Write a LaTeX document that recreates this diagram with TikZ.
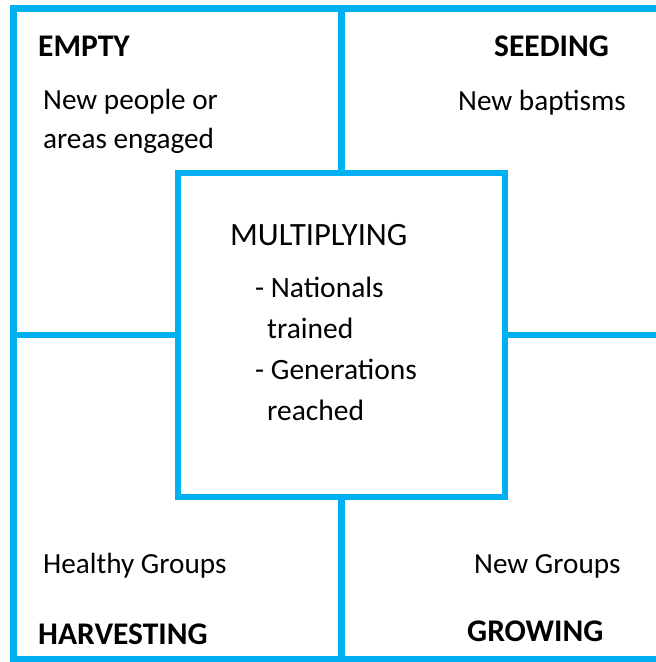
\documentclass[tikz,border=0pt]{standalone}
\usepackage{fontspec}
\setmainfont{Carlito}
\usepackage{tikz}
\usetikzlibrary{positioning,calc}
\definecolor{skyblue}{HTML}{00B0F0}
\tikzset{
  bluebox/.style={draw=skyblue,line width=6.5pt,inner sep=0pt},
  bluerule/.style={draw=skyblue,line width=6.5pt},
  phasehead/.style={font=\fontsize{31.5}{40}\selectfont\bfseries,inner sep=0pt,anchor=base west},
  phasetext/.style={font=\fontsize{29.2}{39}\selectfont,inner sep=0pt,anchor=base west,align=left}
}
\begin{document}
\begin{tikzpicture}[x=1pt,y=-1pt]
\useasboundingbox (0,0) rectangle (656,662);
\clip (0,0) rectangle (656,662);
\node[bluebox,minimum width=656pt,minimum height=651pt] (frame) at (341.5,334) {};
\node[bluebox,fill=white,minimum width=327pt,minimum height=324pt] (mult) at (341.5,335) {};
\draw[bluerule] (mult.north) -- (mult.north |- frame.north);
\draw[bluerule] (mult.south) -- (mult.south |- frame.south);
\draw[bluerule] (mult.west) -- (mult.west -| frame.west);
\draw[bluerule] (mult.east) -- (mult.east -| frame.east);
\node[phasehead] (empty) at (38,56) {EMPTY};
\node[phasetext] (emptytxt) at (43,148) {New people or\\areas engaged};
\node[phasehead] (seeding) at (494,56) {SEEDING};
\node[phasetext] (seedingtxt) at (458,110) {New baptisms};
\node[phasetext,font=\fontsize{32.5}{40}\selectfont] (multtitle) at (230,245) {MULTIPLYING};
\node[phasetext,font=\fontsize{29.5}{41}\selectfont] (natl) at (255,338) {- Nationals\\\hspace{12pt}trained};
\node[phasetext,font=\fontsize{29.5}{41}\selectfont] (gens) at (255,420) {- Generations\\\hspace{12pt}reached};
\node[phasetext] (harvtxt) at (43,573) {Healthy Groups};
\node[phasehead] (harvest) at (38,644) {HARVESTING};
\node[phasetext] (growtxt) at (474,573) {New Groups};
\node[phasehead] (growing) at (467,641) {GROWING};
\end{tikzpicture}
\end{document}
